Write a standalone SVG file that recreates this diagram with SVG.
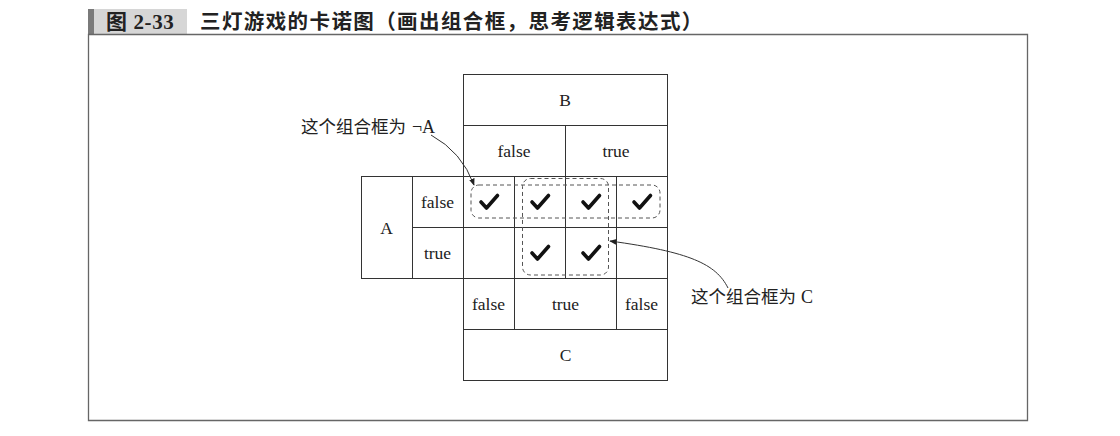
<svg xmlns="http://www.w3.org/2000/svg" width="1120" height="436" viewBox="0 0 1120 436">
<defs>
<style>
.grid{fill:none;stroke:#333;stroke-width:1}
.lbl{font-family:"Liberation Serif","Times New Roman",serif;font-size:17.5px;fill:#222;text-anchor:middle;dominant-baseline:central}
.note{font-family:"Noto Sans CJK SC","Liberation Sans",sans-serif;font-size:17.5px;fill:#222}
.note-s{font-family:"Liberation Serif",serif;font-size:18px}
.dash{fill:none;stroke:#555;stroke-width:1;stroke-dasharray:4 3}
.chk{fill:none;stroke:#111;stroke-width:3.6;stroke-linecap:round;stroke-linejoin:round}
.conn{fill:none;stroke:#333;stroke-width:1}
</style>
<marker id="arr" viewBox="0 0 10 10" refX="9" refY="5" markerWidth="7" markerHeight="7" orient="auto" markerUnits="userSpaceOnUse">
<path d="M0,1 L10,5 L0,9 z" fill="#222"/>
</marker>
<path id="check" d="M-8,0 L-2.5,6 L8.5,-6.5"/>
</defs>

<g id="frame">
<rect x="88" y="9" width="6" height="25" fill="#7a7a7a"/>
<rect x="94" y="9" width="93" height="25" fill="#d6d6d6"/>
<text x="106" y="29" font-family="Liberation Serif,Noto Sans CJK SC,serif" font-weight="bold" font-size="21" fill="#222" letter-spacing="0.6">图 2-33</text>
<text x="200" y="29" font-family="Noto Sans CJK SC,sans-serif" font-weight="bold" font-size="20.5" fill="#222" letter-spacing="1.4">三灯游戏的卡诺图（画出组合框，思考逻辑表达式）</text>
<path d="M88.5,34.5 H1027.5 V420.5 H88.5 Z" fill="none" stroke="#666" stroke-width="1.3"/>
</g>

<g id="kmap-grid">
<rect class="grid" x="463.5" y="74.5" width="204" height="306"/>
<rect class="grid" x="361.5" y="176.5" width="102" height="102"/>
<line class="grid" x1="463.5" y1="125.5" x2="667.5" y2="125.5"/>
<line class="grid" x1="463.5" y1="176.5" x2="667.5" y2="176.5"/>
<line class="grid" x1="412.5" y1="227.5" x2="667.5" y2="227.5"/>
<line class="grid" x1="463.5" y1="278.5" x2="667.5" y2="278.5"/>
<line class="grid" x1="463.5" y1="329.5" x2="667.5" y2="329.5"/>
<line class="grid" x1="412.5" y1="176.5" x2="412.5" y2="278.5"/>
<line class="grid" x1="565.5" y1="125.5" x2="565.5" y2="278.5"/>
<line class="grid" x1="514.5" y1="176.5" x2="514.5" y2="329.5"/>
<line class="grid" x1="616.5" y1="176.5" x2="616.5" y2="329.5"/>
</g>

<g id="header-B">
<text class="lbl" x="565" y="100">B</text>
<text class="lbl" x="514" y="151">false</text>
<text class="lbl" x="616" y="151">true</text>
</g>
<g id="header-A">
<text class="lbl" x="386.5" y="227.5">A</text>
<text class="lbl" x="437.5" y="201.5">false</text>
<text class="lbl" x="437.5" y="252.5">true</text>
</g>
<g id="header-C">
<text class="lbl" x="488.5" y="303.5">false</text>
<text class="lbl" x="565.5" y="303.5">true</text>
<text class="lbl" x="641.5" y="303.5">false</text>
<text class="lbl" x="565.5" y="354.5">C</text>
</g>

<g id="checks">
<use href="#check" class="chk" x="489" y="202"/>
<use href="#check" class="chk" x="540" y="202"/>
<use href="#check" class="chk" x="591" y="202"/>
<use href="#check" class="chk" x="642" y="202"/>
<use href="#check" class="chk" x="540" y="253"/>
<use href="#check" class="chk" x="591" y="253"/>
</g>

<g id="group-notA">
<rect class="dash" x="471" y="185" width="189" height="33" rx="8"/>
</g>
<g id="group-C">
<rect class="dash" x="522.5" y="178.5" width="86" height="96.5" rx="8"/>
</g>

<g id="note-notA">
<text class="note" x="301" y="133">这个组合框为 <tspan class="note-s" dx="2">¬A</tspan></text>
</g>
<g id="note-C">
<text class="note" x="691" y="303">这个组合框为 <tspan class="note-s" dx="1">C</tspan></text>
</g>

<g id="connectors">
<path class="conn" d="M431,135 Q462,152 474,185" marker-end="url(#arr)"/>
<path class="conn" d="M728,288 C716,264 690,252 610,241" marker-end="url(#arr)"/>
</g>
</svg>
